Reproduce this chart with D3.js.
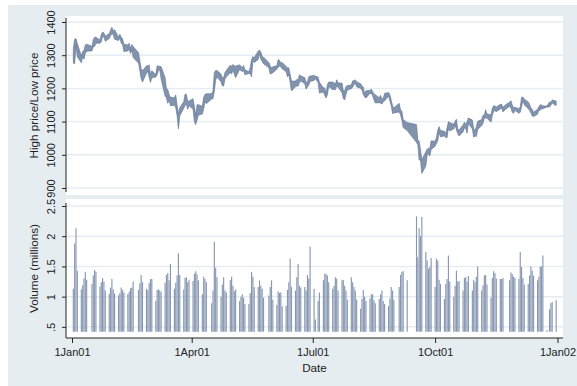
<!DOCTYPE html>
<html lang="en">
<head>
<meta charset="UTF-8">
<script src="https://d3js.org/d3.v7.min.js"></script>
<title>S&amp;P 500 2001</title>
<style>
  body { margin: 0; background: #fff; }
  svg { display: block; font-family: "Liberation Sans", Arial, sans-serif; }
  .axis text { fill: #222; font-size: 11px; }
  .axis line { stroke: #222; }
  .title { fill: #222; font-size: 11.7px; }
</style>
</head>
<body>
<svg id="chart" width="577" height="386"></svg>
<script>
// trading days of 2001, day of month for each month
var tradeDays = [
  [2,3,4,5,8,9,10,11,12,16,17,18,19,22,23,24,25,26,29,30,31],
  [1,2,5,6,7,8,9,12,13,14,15,16,20,21,22,23,26,27,28],
  [1,2,5,6,7,8,9,12,13,14,15,16,19,20,21,22,23,26,27,28,29,30],
  [2,3,4,5,6,9,10,11,12,16,17,18,19,20,23,24,25,26,27,30],
  [1,2,3,4,7,8,9,10,11,14,15,16,17,18,21,22,23,24,25,29,30,31],
  [1,4,5,6,7,8,11,12,13,14,15,18,19,20,21,22,25,26,27,28,29],
  [2,3,5,6,9,10,11,12,13,16,17,18,19,20,23,24,25,26,27,30,31],
  [1,2,3,6,7,8,9,10,13,14,15,16,17,20,21,22,23,24,27,28,29,30,31],
  [4,5,6,7,10,17,18,19,20,21,24,25,26,27,28],
  [1,2,3,4,5,8,9,10,11,12,15,16,17,18,19,22,23,24,25,26,29,30,31],
  [1,2,5,6,7,8,9,12,13,14,15,16,19,20,21,23,26,27,28,29,30],
  [3,4,5,6,7,10,11,12,13,14,17,18,19,20,21,24,26,27,28,31]
];

var high = [
  1320,1348,1350,1335,1298,1311,1314,1331,1333,1327,1347,1354,1354,1346,1362,1370,1367,1357,1365,1376,1384,
  1374,1377,1355,1363,1353,1350,1333,1331,1336,1320,1332,1326,1308,1283,1259,1253,1268,1268,1271,
  1242,1253,1242,1268,1267,1267,1265,1233,1198,1197,1182,1173,1172,1180,1149,1124,1142,1160,1183,1182,1161,1162,
  1169,1146,1118,1151,1151,1146,1173,1182,1184,1184,1193,1248,1254,1254,1243,1233,1232,1248,1254,1270,
  1267,1272,1268,1267,1271,1267,1262,1269,1256,1250,1263,1287,1296,1292,1313,1315,1310,1295,1294,1278,1268,1262,
  1265,1268,1287,1284,1277,1278,1266,1262,1262,1242,1222,1222,1227,1226,1241,1238,1232,1218,1219,1235,1237,
  1239,1237,1234,1219,1201,1202,1185,1211,1219,1219,1216,1214,1226,1216,1216,1192,1193,1205,1209,1210,1223,
  1223,1226,1220,1214,1207,1204,1184,1193,1194,1198,1191,1184,1181,1172,1179,1169,1170,1185,1188,1180,1164,1148,1141,
  1155,1135,1132,1106,1097,1091,1045,1041,1016,985,1009,1017,1020,1019,1042,
  1041,1053,1075,1085,1073,1071,1063,1082,1100,1097,1092,1101,1107,1077,1075,1090,1098,1091,1100,1111,1105,1078,1074,
  1085,1101,1106,1119,1120,1136,1123,1121,1140,1148,1147,1144,1152,1152,1143,1151,1158,1163,1150,1141,1143,
  1139,1145,1173,1174,1168,1159,1152,1141,1137,1128,1137,1145,1151,1150,1147,1147,1159,1158,1165,1162
];

var low = [
  1276,1274,1329,1295,1277,1295,1288,1305,1312,1313,1325,1326,1336,1336,1340,1358,1354,1342,1350,1359,1364,
  1362,1348,1344,1352,1336,1332,1311,1313,1317,1305,1316,1293,1276,1254,1229,1219,1246,1252,1233,
  1218,1232,1234,1241,1254,1256,1228,1176,1172,1155,1166,1148,1149,1142,1118,1078,1117,1140,1150,1152,1137,1148,
  1137,1100,1091,1104,1119,1123,1138,1161,1154,1168,1169,1191,1225,1234,1220,1208,1207,1228,1234,1248,
  1243,1257,1243,1232,1257,1254,1250,1254,1241,1245,1244,1235,1282,1278,1287,1304,1288,1281,1274,1262,1243,1245,
  1247,1258,1264,1267,1265,1259,1250,1235,1241,1218,1192,1205,1207,1207,1217,1222,1214,1198,1204,1210,1221,
  1224,1229,1218,1186,1189,1179,1171,1181,1206,1196,1197,1196,1207,1204,1187,1169,1165,1182,1195,1199,1204,
  1211,1215,1205,1200,1195,1182,1174,1171,1185,1185,1178,1166,1156,1157,1155,1153,1160,1162,1177,1161,1148,1124,1126,
  1129,1120,1105,1082,1073,1037,1030,984,984,944,966,998,1003,996,1016,
  1026,1034,1042,1068,1054,1057,1052,1052,1080,1072,1078,1090,1075,1064,1057,1069,1081,1079,1065,1094,1078,1053,1057,
  1055,1076,1088,1095,1110,1111,1110,1098,1119,1131,1133,1130,1138,1141,1129,1137,1146,1140,1128,1125,1134,
  1125,1128,1145,1164,1151,1139,1134,1126,1117,1115,1122,1134,1134,1139,1139,1144,1144,1149,1156,1148
];

// volume in millions
var volume = [
  1.13,1.88,2.13,1.43,1.12,1.19,1.30,1.41,1.28,1.21,1.35,1.44,1.41,1.17,1.24,1.31,1.25,1.10,1.05,1.15,1.29,
  1.12,1.05,1.02,1.06,1.15,1.11,1.07,1.04,1.08,1.14,1.15,1.25,1.11,1.22,1.36,1.24,1.13,1.11,1.22,
  1.29,1.29,0.93,1.11,1.12,1.10,1.08,1.23,1.36,1.39,1.27,1.54,1.13,1.23,1.35,1.72,1.36,1.12,1.31,1.32,1.24,1.28,
  1.26,1.38,1.42,1.37,1.27,1.04,1.33,1.29,1.24,0.89,1.10,1.91,1.48,1.32,1.00,1.20,1.32,1.10,1.07,1.27,
  1.33,1.18,1.09,1.12,0.93,1.00,1.04,0.98,0.88,0.88,1.06,1.41,1.33,1.16,1.16,1.27,1.18,1.13,0.98,1.02,1.16,1.27,
  0.95,0.86,1.09,1.06,1.07,0.84,0.85,1.11,1.24,1.63,1.16,1.10,1.32,1.54,1.18,1.15,1.16,1.10,1.36,1.30,1.83,
  1.13,0.62,0.93,1.07,1.27,1.38,1.38,1.35,1.24,1.13,1.18,1.32,1.30,1.10,1.28,1.27,1.18,1.10,0.95,1.32,1.24,
  1.16,1.10,0.95,0.80,0.96,1.11,1.00,0.93,0.97,1.04,1.04,0.94,0.89,0.96,1.04,1.10,0.93,0.88,0.84,0.97,1.16,1.10,0.95,
  1.16,1.36,1.41,1.42,1.27,2.33,1.65,2.13,2.00,2.32,1.74,1.60,1.46,1.49,1.64,
  1.16,1.63,1.60,1.28,1.21,0.96,1.21,1.29,1.68,1.25,1.00,1.18,1.43,1.25,1.26,1.10,1.31,1.32,1.25,1.34,1.10,1.28,1.24,
  1.33,1.50,1.10,1.19,1.35,1.36,1.20,0.98,1.31,1.42,1.39,1.30,1.29,1.29,1.31,0.42,1.27,1.40,1.37,1.33,1.31,
  1.29,1.74,1.49,1.31,1.20,1.21,1.35,1.50,1.43,1.35,1.27,1.33,1.50,1.50,1.68,0.45,0.79,0.89,0.91,0.94
];

var priceTicks = [900,1000,1100,1200,1300,1400];
var volumeTicks = [0.5,1,1.5,2,2.5];
var dateTicks = ["1Jan2001","1Apr2001","1Jul2001","1Oct2001","1Jan2002"];

var parseDay = d3.utcParse("%d%b%Y");
var rows = [];
tradeDays.forEach(function(days, m){
  days.forEach(function(day){
    var i = rows.length;
    rows.push({date: new Date(Date.UTC(2001, m, day)), high: high[i], low: low[i], volume: volume[i]});
  });
});

var bg = "#e6edf1";
var ink = "#5d7091";
var plotL = 66, plotR = 563;

var svg = d3.select("#chart");

// graph region and the two plot regions
svg.append("rect").attr("x",8).attr("y",5).attr("width",569).attr("height",381).attr("fill",bg);
svg.append("rect").attr("x",plotL).attr("y",16).attr("width",plotR-plotL).attr("height",179).attr("fill","#fff");
svg.append("rect").attr("x",plotL).attr("y",199).attr("width",plotR-plotL).attr("height",139).attr("fill","#fff");

var x = d3.scaleUtc()
  .domain([Date.UTC(2001,0,1), Date.UTC(2002,0,1)])
  .range([72, 557.5]);

var yPrice = d3.scaleLinear().domain([900,1400]).range([188,22]);
var yVol = d3.scaleLinear().domain([d3.min(volume), 2.5]).range([331.7,206]);

// grid lines
svg.append("g").selectAll("line")
  .data(priceTicks)
  .enter()
  .append("line")
  .attr("x1",plotL).attr("x2",plotR)
  .attr("y1",function(d){ return yPrice(d); })
  .attr("y2",function(d){ return yPrice(d); })
  .attr("stroke",bg).attr("stroke-width",1.5);

svg.append("g").selectAll("line")
  .data(volumeTicks)
  .enter()
  .append("line")
  .attr("x1",plotL).attr("x2",plotR)
  .attr("y1",function(d){ return yVol(d); })
  .attr("y2",function(d){ return yVol(d); })
  .attr("stroke",bg).attr("stroke-width",1.5);

// high/low range area
var band = d3.area()
  .x(function(d){ return x(d.date); })
  .y0(function(d){ return yPrice(d.low); })
  .y1(function(d){ return yPrice(d.high); });

svg.append("path")
  .datum(rows)
  .attr("d",band)
  .attr("fill","#8293ae")
  .attr("stroke",ink)
  .attr("stroke-width",0.6);

// volume spikes
svg.append("g").selectAll("line")
  .data(rows)
  .enter()
  .append("line")
  .attr("x1",function(d){ return x(d.date); })
  .attr("x2",function(d){ return x(d.date); })
  .attr("y1",yVol(d3.min(volume)))
  .attr("y2",function(d){ return yVol(d.volume); })
  .attr("stroke","#8898b2")
  .attr("stroke-width",1.15);

// axes
function rotateLabels(g){
  g.select(".domain").remove();
  g.selectAll("text")
    .attr("x",null).attr("dy",null)
    .attr("text-anchor","middle")
    .attr("transform","translate(-11,0) rotate(-90)");
}

svg.append("g")
  .attr("class","axis")
  .attr("transform","translate("+plotL+",0)")
  .call(d3.axisLeft(yPrice).tickValues(priceTicks).tickSize(4).tickFormat(d3.format("d")))
  .call(rotateLabels);

svg.append("g")
  .attr("class","axis")
  .attr("transform","translate("+plotL+",0)")
  .call(d3.axisLeft(yVol).tickValues(volumeTicks).tickSize(4).tickFormat(function(d){ return String(d).replace(/^0/,""); }))
  .call(rotateLabels);

svg.append("line").attr("x1",plotL).attr("x2",plotL).attr("y1",18).attr("y2",192).attr("stroke","#222");
svg.append("line").attr("x1",plotL).attr("x2",plotL).attr("y1",203).attr("y2",338).attr("stroke","#222");

svg.append("g")
  .attr("class","axis")
  .attr("transform","translate(0,338)")
  .call(d3.axisBottom(x).tickValues(dateTicks.map(parseDay)).tickSize(5).tickPadding(5).tickFormat(d3.utcFormat("%-d%b%y")))
  .call(function(g){ g.select(".domain").remove(); });

svg.append("line").attr("x1",plotL).attr("x2",plotR).attr("y1",338).attr("y2",338).attr("stroke","#222");

// titles
svg.append("text").attr("class","title")
  .attr("text-anchor","middle")
  .attr("transform","translate(38,105.5) rotate(-90)")
  .text("High price/Low price");

svg.append("text").attr("class","title")
  .attr("text-anchor","middle")
  .attr("transform","translate(38,268.5) rotate(-90)")
  .text("Volume (millions)");

svg.append("text").attr("class","title")
  .attr("text-anchor","middle")
  .attr("x",314.5).attr("y",372)
  .text("Date");
</script>
</body>
</html>
